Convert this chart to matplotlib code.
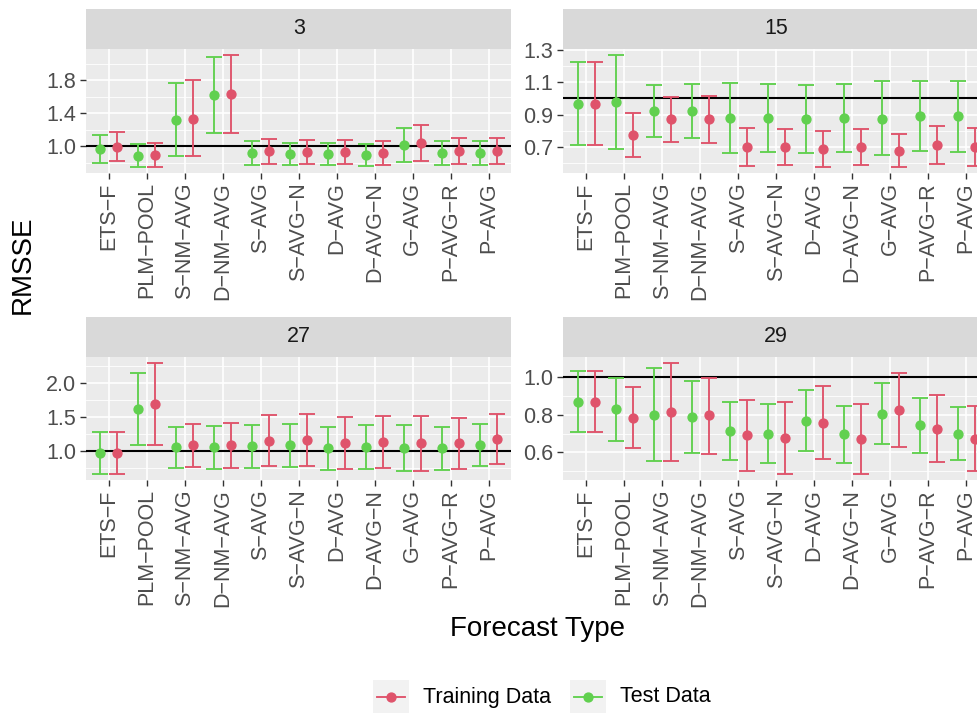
import numpy as np
import matplotlib
matplotlib.use("Agg")
from matplotlib import pyplot as plt
from matplotlib.patches import Rectangle
from matplotlib.lines import Line2D

plt.rcParams['font.family'] = ['Liberation Sans', 'DejaVu Sans']

forecast_types = ["ETS\u2212F", "PLM\u2212POOL", "S\u2212NM\u2212AVG", "D\u2212NM\u2212AVG", "S\u2212AVG",
                  "S\u2212AVG\u2212N", "D\u2212AVG", "D\u2212AVG\u2212N", "G\u2212AVG", "P\u2212AVG\u2212R", "P\u2212AVG"]
horizons = ["3", "15", "27", "29"]

# horizon 3
test_3 = [0.96, 0.88, 1.317, 1.618, 0.91, 0.904, 0.904, 0.89, 1.012, 0.91, 0.91]
test_3_lo = [0.795, 0.747, 0.88, 1.157, 0.775, 0.767, 0.767, 0.76, 0.803, 0.771, 0.771]
test_3_hi = [1.13, 1.02, 1.763, 2.08, 1.056, 1.04, 1.036, 1.028, 1.217, 1.056, 1.056]
train_3 = [0.99, 0.89, 1.333, 1.627, 0.936, 0.928, 0.928, 0.916, 1.04, 0.936, 0.94]
train_3_lo = [0.815, 0.747, 0.88, 1.157, 0.787, 0.779, 0.779, 0.771, 0.819, 0.783, 0.787]
train_3_hi = [1.17, 1.04, 1.795, 2.108, 1.088, 1.076, 1.072, 1.056, 1.253, 1.092, 1.10]

# horizon 15
test_15 = [0.967, 0.977, 0.919, 0.923, 0.878, 0.878, 0.874, 0.878, 0.874, 0.890, 0.888]
test_15_lo = [0.710, 0.686, 0.760, 0.756, 0.663, 0.665, 0.661, 0.665, 0.646, 0.675, 0.665]
test_15_hi = [1.228, 1.273, 1.081, 1.089, 1.095, 1.093, 1.085, 1.093, 1.106, 1.106, 1.108]
train_15 = [0.967, 0.772, 0.870, 0.870, 0.696, 0.698, 0.686, 0.698, 0.673, 0.710, 0.700]
train_15_lo = [0.710, 0.634, 0.729, 0.725, 0.578, 0.586, 0.576, 0.586, 0.574, 0.592, 0.582]
train_15_hi = [1.228, 0.907, 1.012, 1.017, 0.814, 0.810, 0.799, 0.810, 0.777, 0.826, 0.818]

# horizon 27
test_27 = [0.966, 1.607, 1.053, 1.053, 1.073, 1.078, 1.044, 1.053, 1.044, 1.039, 1.087]
test_27_lo = [0.660, 1.078, 0.743, 0.728, 0.752, 0.762, 0.723, 0.728, 0.704, 0.718, 0.777]
test_27_hi = [1.277, 2.136, 1.354, 1.359, 1.379, 1.393, 1.350, 1.374, 1.374, 1.350, 1.398]
train_27 = [0.966, 1.689, 1.078, 1.078, 1.150, 1.155, 1.112, 1.126, 1.117, 1.112, 1.170]
train_27_lo = [0.660, 1.078, 0.767, 0.752, 0.772, 0.782, 0.733, 0.743, 0.709, 0.728, 0.801]
train_27_hi = [1.277, 2.296, 1.393, 1.408, 1.524, 1.534, 1.490, 1.510, 1.515, 1.485, 1.544]

# horizon 29
test_29 = [0.871, 0.829, 0.801, 0.789, 0.715, 0.700, 0.769, 0.697, 0.804, 0.744, 0.700]
test_29_lo = [0.707, 0.660, 0.552, 0.598, 0.559, 0.542, 0.607, 0.542, 0.642, 0.596, 0.558]
test_29_hi = [1.035, 0.995, 1.049, 0.979, 0.871, 0.857, 0.931, 0.850, 0.970, 0.891, 0.843]
train_29 = [0.871, 0.785, 0.817, 0.797, 0.690, 0.676, 0.759, 0.672, 0.826, 0.727, 0.672]
train_29_lo = [0.707, 0.623, 0.552, 0.593, 0.500, 0.485, 0.563, 0.485, 0.626, 0.549, 0.498]
train_29_hi = [1.035, 0.949, 1.079, 0.995, 0.880, 0.870, 0.956, 0.859, 1.026, 0.908, 0.847]

major_ticks = {"3": [1.0, 1.4, 1.8], "15": [0.7, 0.9, 1.1, 1.3],
               "27": [1.0, 1.5, 2.0], "29": [0.6, 0.8, 1.0]}
minor_ticks = {"3": [0.8, 1.2, 1.6, 2.0], "15": [0.6, 0.8, 1.0, 1.2],
               "27": [0.75, 1.25, 1.75, 2.25], "29": [0.5, 0.7, 0.9]}

series = {
    "3": (test_3, test_3_lo, test_3_hi, train_3, train_3_lo, train_3_hi),
    "15": (test_15, test_15_lo, test_15_hi, train_15, train_15_lo, train_15_hi),
    "27": (test_27, test_27_lo, test_27_hi, train_27, train_27_lo, train_27_hi),
    "29": (test_29, test_29_lo, test_29_hi, train_29, train_29_lo, train_29_hi),
}

RED = "#DF536B"
GREEN = "#61D04F"
W, H = 978, 713

fig = plt.figure(figsize=(W / 100, H / 100), dpi=100)

def box(x0, y0, x1, y1):
    # pixel box (top-left origin) -> figure fraction rect
    return [x0 / W, 1 - y1 / H, (x1 - x0) / W, (y1 - y0) / H]

cols = [(86, 511.5), (563.3, 989)]
rows = [(9, 49, 172.5), (317, 357, 479.5)]

for k, h in enumerate(horizons):
    cx0, cx1 = cols[k % 2]
    sy0, py0, py1 = rows[k // 2]
    sax = fig.add_axes(box(cx0, sy0, cx1, py0))
    sax.set_facecolor("#D9D9D9")
    sax.set_xticks([])
    sax.set_yticks([])
    for s in sax.spines.values():
        s.set_visible(False)
    sax.text(0.5, 0.5, h, ha="center", va="center", fontsize=15.5, color="#1A1A1A", transform=sax.transAxes)

    ax = fig.add_axes(box(cx0, py0, cx1, py1))
    ax.set_facecolor("#EBEBEB")
    for s in ax.spines.values():
        s.set_visible(False)
    te, te_lo, te_hi, tr, tr_lo, tr_hi = [np.array(v) for v in series[h]]
    x = np.arange(1, len(forecast_types) + 1)

    ax.axhline(1, color="black", lw=1.5, zorder=2)
    ax.errorbar(x - 0.225, te, yerr=[te - te_lo, te_hi - te], fmt="o", color=GREEN, ms=6.4,
                capsize=5.8, elinewidth=1.35, capthick=1.35, zorder=3)
    ax.errorbar(x + 0.225, tr, yerr=[tr - tr_lo, tr_hi - tr], fmt="o", color=RED, ms=6.4,
                capsize=5.8, elinewidth=1.35, capthick=1.35, zorder=3)

    lo = min(te_lo.min(), tr_lo.min(), 1.0)
    hi = max(te_hi.max(), tr_hi.max(), 1.0)
    pad = 0.05 * (hi - lo)
    ax.set_ylim(lo - pad, hi + pad)
    ax.set_xlim(0.4, len(forecast_types) + 0.6)

    ax.set_xticks(x)
    ax.set_xticklabels(forecast_types, rotation=90, ha="center", va="top")
    ax.set_yticks(major_ticks[h])
    ax.set_yticklabels(["%.1f" % t for t in major_ticks[h]])
    ax.set_yticks(minor_ticks[h], minor=True)
    ax.set_axisbelow(True)
    ax.grid(which="major", color="white", lw=1.2)
    ax.grid(which="minor", axis="y", color="white", lw=0.6)
    ax.tick_params(which="major", length=4, width=1.0, color="#333333", labelcolor="#4D4D4D",
                   labelsize=15.5, pad=3)
    ax.tick_params(which="minor", length=0)

fig.text(23 / W, 1 - 265 / H, "RMSSE", rotation=90, ha="center", va="center", fontsize=20)
fig.text(537 / W, 1 - 629 / H, "Forecast Type", ha="center", va="center", fontsize=20)

# legend
legend_items = [("Training Data", RED, 373, 423), ("Test Data", GREEN, 570, 620)]
for label, col, kx, tx in legend_items:
    fig.add_artist(Rectangle((kx / W, 1 - 713 / H), 36 / W, 33 / H, transform=fig.transFigure,
                             facecolor="#F2F2F2", edgecolor="none"))
    fig.add_artist(Line2D([(kx + 4) / W, (kx + 32) / W], [1 - 696.5 / H] * 2, transform=fig.transFigure,
                          color=col, lw=1.35))
    fig.add_artist(Line2D([(kx + 18) / W], [1 - 696.5 / H], transform=fig.transFigure,
                          color=col, marker="o", ms=6.4, lw=0))
    fig.text(tx / W, 1 - 697 / H, label, ha="left", va="center", fontsize=15.5, color="black")

fig.savefig("out.png", dpi=100)
